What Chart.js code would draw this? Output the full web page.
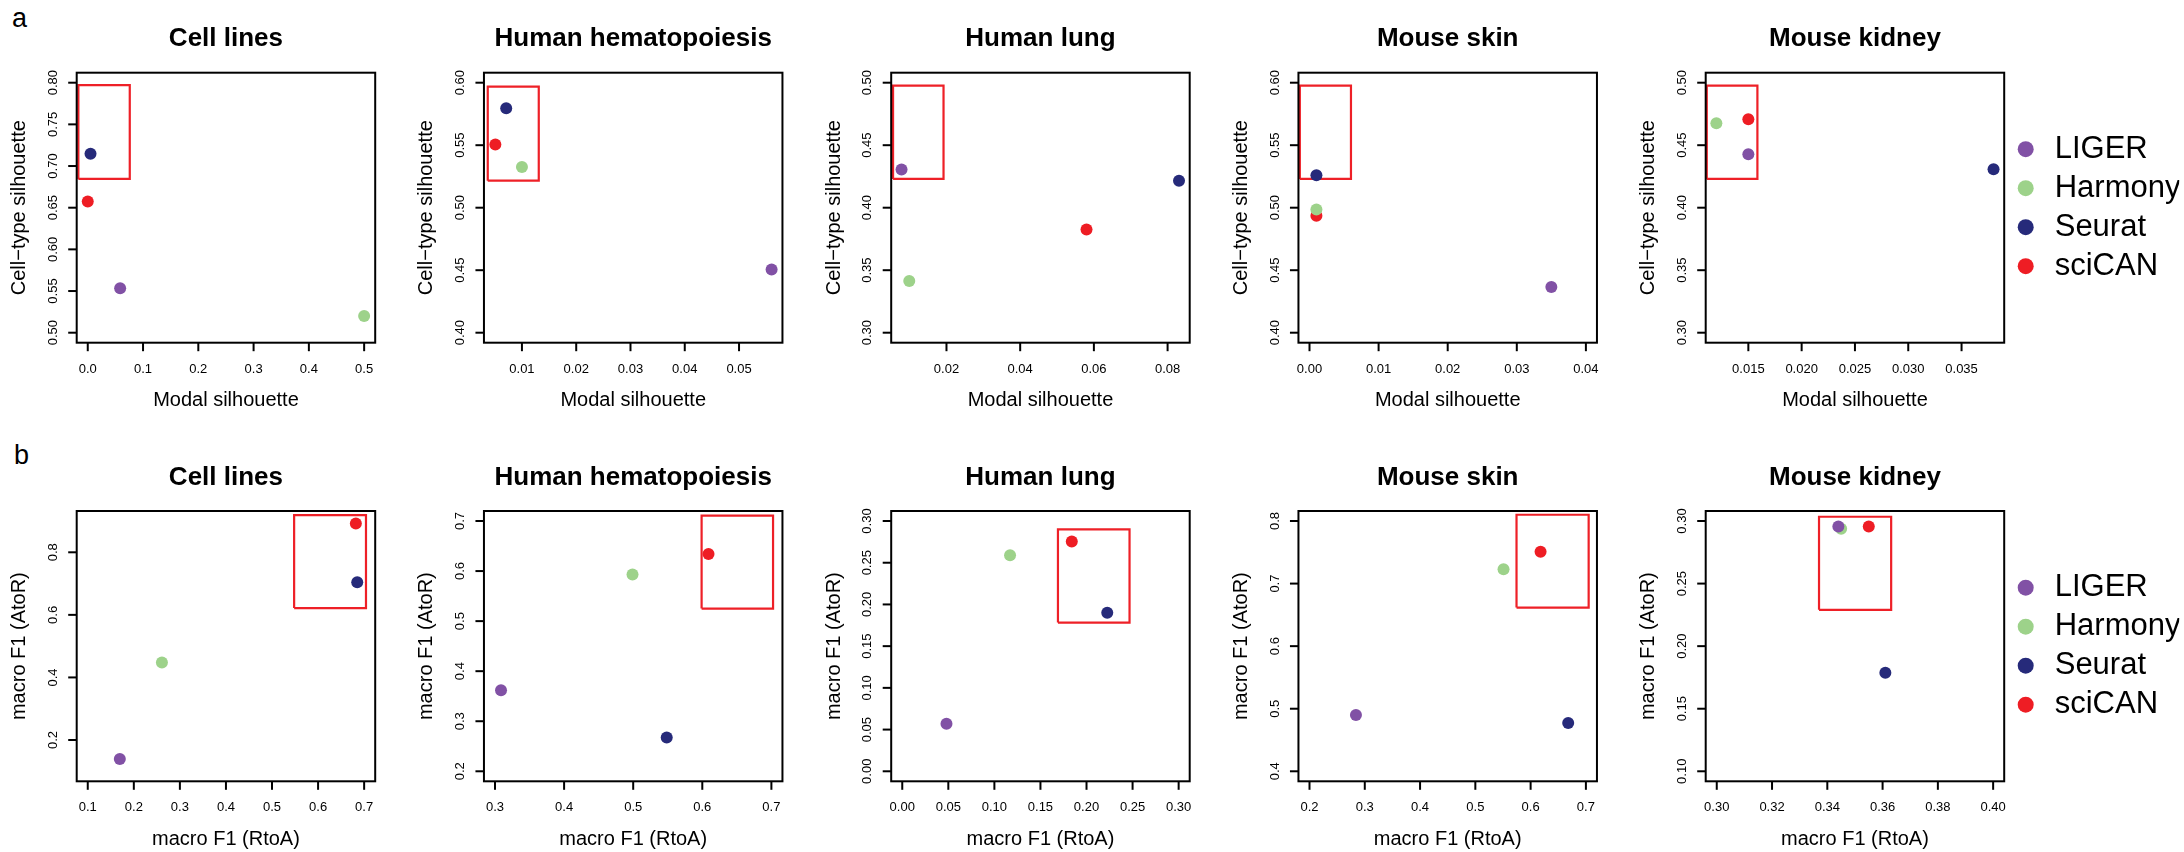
<!DOCTYPE html>
<html>
<head>
<meta charset="utf-8">
<script src="https://cdn.jsdelivr.net/npm/chart.js@4.4.0/dist/chart.umd.min.js"></script>
<style>
  body { margin: 0; background: #fff; width: 2184px; height: 852px; position: relative; overflow: hidden; font-family: "Liberation Sans", Arial, sans-serif; }
  canvas { position: absolute; }
  .tag { position: absolute; font-size: 27px; line-height: 1; color: #000; }
</style>
</head>
<body>
<div class="tag" style="left:12px;top:5px">a</div>
<div class="tag" style="left:14px;top:442px">b</div>
<script>
const methods = ['LIGER', 'Harmony', 'Seurat', 'sciCAN'];
const methodColors = ['#8151A5', '#9DD28A', '#262A7A', '#EE1D24'];
const panelTitles = ['Cell lines', 'Human hematopoiesis', 'Human lung', 'Mouse skin', 'Mouse kidney'];

// row a: one entry per dataset, values in the order of `methods`
const modalSil = [
    [0.0586, 0.500, 0.005, 0.000],
    [0.056, 0.010, 0.0071, 0.0051],
    [0.0078, 0.0099, 0.0831, 0.058],
    [0.035, 0.001, 0.001, 0.001],
    [0.015, 0.012, 0.038, 0.015]
];
const celltypeSil = [
    [0.5533, 0.520, 0.7146, 0.6575],
    [0.4505, 0.5326, 0.5796, 0.5505],
    [0.4305, 0.3414, 0.4216, 0.3826],
    [0.4366, 0.4986, 0.5259, 0.4936],
    [0.4427, 0.4676, 0.4307, 0.4708]
];
// row b
const f1RtoA = [
    [0.1696, 0.261, 0.685, 0.682],
    [0.3087, 0.499, 0.5485, 0.609],
    [0.048, 0.117, 0.2225, 0.184],
    [0.284, 0.551, 0.668, 0.618],
    [0.344, 0.345, 0.361, 0.355]
];
const f1AtoR = [
    [0.139, 0.448, 0.704, 0.892],
    [0.362, 0.593, 0.2674, 0.634],
    [0.057, 0.259, 0.190, 0.2755],
    [0.490, 0.723, 0.477, 0.751],
    [0.2957, 0.2938, 0.1787, 0.2957]
];

// red highlight boxes [x1, x2, y1, y2]
const boxA = [
    [-0.017, 0.076, 0.6845, 0.797],
    [0.0037, 0.0131, 0.5216, 0.5968],
    [0.0055, 0.0192, 0.423, 0.4976],
    [-0.0014, 0.006, 0.523, 0.5976],
    [0.0111, 0.01585, 0.423, 0.4976]
];
const boxB = [
    [0.548, 0.704, 0.6216, 0.9185],
    [0.599, 0.7024, 0.525, 0.7106],
    [0.169, 0.2467, 0.1782, 0.290],
    [0.5745, 0.705, 0.6616, 0.810],
    [0.337, 0.3631, 0.229, 0.3034]
];

// axis limits
const xLimA = [[-0.02, 0.52], [0.003, 0.058], [0.005, 0.086], [-0.0016, 0.0416], [0.011, 0.039]];
const yLimA = [[0.488, 0.812], [0.392, 0.608], [0.292, 0.508], [0.392, 0.608], [0.292, 0.508]];
const xLimB = [[0.076, 0.724], [0.284, 0.716], [-0.012, 0.312], [0.18, 0.72], [0.296, 0.404]];
const yLimB = [[0.068, 0.932], [0.18, 0.72], [-0.012, 0.312], [0.384, 0.816], [0.092, 0.308]];

// tick labels
const xTicksA = [
    ['0.0', '0.1', '0.2', '0.3', '0.4', '0.5'],
    ['0.01', '0.02', '0.03', '0.04', '0.05'],
    ['0.02', '0.04', '0.06', '0.08'],
    ['0.00', '0.01', '0.02', '0.03', '0.04'],
    ['0.015', '0.020', '0.025', '0.030', '0.035']
];
const yTicksA = [
    ['0.50', '0.55', '0.60', '0.65', '0.70', '0.75', '0.80'],
    ['0.40', '0.45', '0.50', '0.55', '0.60'],
    ['0.30', '0.35', '0.40', '0.45', '0.50'],
    ['0.40', '0.45', '0.50', '0.55', '0.60'],
    ['0.30', '0.35', '0.40', '0.45', '0.50']
];
const xTicksB = [
    ['0.1', '0.2', '0.3', '0.4', '0.5', '0.6', '0.7'],
    ['0.3', '0.4', '0.5', '0.6', '0.7'],
    ['0.00', '0.05', '0.10', '0.15', '0.20', '0.25', '0.30'],
    ['0.2', '0.3', '0.4', '0.5', '0.6', '0.7'],
    ['0.30', '0.32', '0.34', '0.36', '0.38', '0.40']
];
const yTicksB = [
    ['0.2', '0.4', '0.6', '0.8'],
    ['0.2', '0.3', '0.4', '0.5', '0.6', '0.7'],
    ['0.00', '0.05', '0.10', '0.15', '0.20', '0.25', '0.30'],
    ['0.4', '0.5', '0.6', '0.7', '0.8'],
    ['0.10', '0.15', '0.20', '0.25', '0.30']
];

Chart.defaults.font.family = '"Liberation Sans", Arial, sans-serif';
Chart.defaults.color = '#000';

const rowsLayout = [
    { top: 0, h: 430, titleMid: 39, plotTop: 72.7, plotBottom: 342.7, xTitle: 'Modal silhouette', yTitle: 'Cell\u2212type silhouette' },
    { top: 430, h: 422, titleMid: 478.3, plotTop: 511, plotBottom: 781.3, xTitle: 'macro F1 (RtoA)', yTitle: 'macro F1 (AtoR)' }
];

// R-style box, ticks and labels, placed with the chart's own scales
function rAxes(xt, yt, xTitle, yTitle) {
    return {
        id: 'rAxes',
        afterDraw(chart) {
            const { ctx, chartArea: a } = chart;
            const x = chart.scales.x, y = chart.scales.y;
            ctx.save();
            ctx.strokeStyle = '#000';
            ctx.fillStyle = '#000';
            ctx.lineWidth = 2;
            ctx.strokeRect(a.left, a.top, a.right - a.left, a.bottom - a.top);
            ctx.font = '13px "Liberation Sans"';
            ctx.textAlign = 'center';
            ctx.textBaseline = 'middle';
            xt.forEach(t => {
                const px = x.getPixelForValue(parseFloat(t));
                ctx.beginPath();
                ctx.moveTo(px, a.bottom);
                ctx.lineTo(px, a.bottom + 8.5);
                ctx.stroke();
                ctx.fillText(t, px, a.bottom + 26.6);
            });
            yt.forEach(t => {
                const py = y.getPixelForValue(parseFloat(t));
                ctx.beginPath();
                ctx.moveTo(a.left - 8.5, py);
                ctx.lineTo(a.left, py);
                ctx.stroke();
                ctx.save();
                ctx.translate(a.left - 23.4, py);
                ctx.rotate(-Math.PI / 2);
                ctx.fillText(t, 0, 0);
                ctx.restore();
            });
            ctx.font = '20px "Liberation Sans"';
            ctx.fillText(xTitle, (a.left + a.right) / 2, a.bottom + 58);
            ctx.save();
            ctx.translate(a.left - 57, (a.top + a.bottom) / 2);
            ctx.rotate(-Math.PI / 2);
            ctx.fillText(yTitle, 0, 0);
            ctx.restore();
            ctx.restore();
        }
    };
}

function makePanel(r, i, xs, ys, box, xLim, yLim, xt, yt) {
    const L = rowsLayout[r];
    const cellLeft = Math.round(407.25 * i);
    const cellW = i < 4 ? Math.round(407.25 * (i + 1)) - cellLeft : 2184 - cellLeft;
    const plotLeft = 76.7 + 407.25 * i;
    const padLeft = plotLeft - cellLeft;
    const legendW = i === 4 ? 175 : 0;
    const padRight = cellW - (plotLeft + 298.5 - cellLeft) - legendW;
    const titleTop = L.titleMid - L.top - 15.6;
    const titleBottom = L.plotTop - L.top - titleTop - 31.2;

    const canvas = document.createElement('canvas');
    canvas.width = cellW;
    canvas.height = L.h;
    canvas.style.left = cellLeft + 'px';
    canvas.style.top = L.top + 'px';
    canvas.style.width = cellW + 'px';
    canvas.style.height = L.h + 'px';
    document.body.appendChild(canvas);

    const datasets = methods.map((m, k) => ({
        label: m,
        data: [{ x: xs[k], y: ys[k] }],
        backgroundColor: methodColors[k],
        borderWidth: 0,
        pointRadius: 6,
        pointHoverRadius: 6,
        clip: false
    }));
    const [x1, x2, y1, y2] = box;
    datasets.push({
        label: 'highlight',
        data: [{ x: x1, y: y1 }, { x: x2, y: y1 }, { x: x2, y: y2 }, { x: x1, y: y2 }, { x: x1, y: y1 }],
        showLine: true,
        borderColor: '#EE2027',
        borderWidth: 2.2,
        pointRadius: 0,
        fill: false,
        clip: false
    });

    new Chart(canvas.getContext('2d'), {
        type: 'scatter',
        data: { datasets },
        options: {
            responsive: false,
            animation: false,
            events: [],
            layout: { padding: { left: padLeft, right: padRight, top: 0, bottom: L.top + L.h - L.plotBottom } },
            scales: {
                x: { type: 'linear', min: xLim[0], max: xLim[1], display: false },
                y: { type: 'linear', min: yLim[0], max: yLim[1], display: false }
            },
            plugins: {
                title: {
                    display: true,
                    text: panelTitles[i],
                    fullSize: false,
                    color: '#000',
                    font: { size: 26, weight: 'bold' },
                    padding: { top: titleTop, bottom: titleBottom }
                },
                legend: {
                    display: i === 4,
                    position: 'right',
                    fullSize: false,
                    maxWidth: 175,
                    labels: {
                        usePointStyle: true,
                        boxWidth: 27,
                        boxHeight: 11.3,
                        padding: 8,
                        color: '#000',
                        font: { size: 31 },
                        filter: item => item.datasetIndex < 4
                    }
                },
                tooltip: { enabled: false }
            }
        },
        plugins: [rAxes(xt, yt, L.xTitle, L.yTitle)]
    });
}

for (let i = 0; i < 5; i++) {
    makePanel(0, i, modalSil[i], celltypeSil[i], boxA[i], xLimA[i], yLimA[i], xTicksA[i], yTicksA[i]);
    makePanel(1, i, f1RtoA[i], f1AtoR[i], boxB[i], xLimB[i], yLimB[i], xTicksB[i], yTicksB[i]);
}
</script>
</body>
</html>
